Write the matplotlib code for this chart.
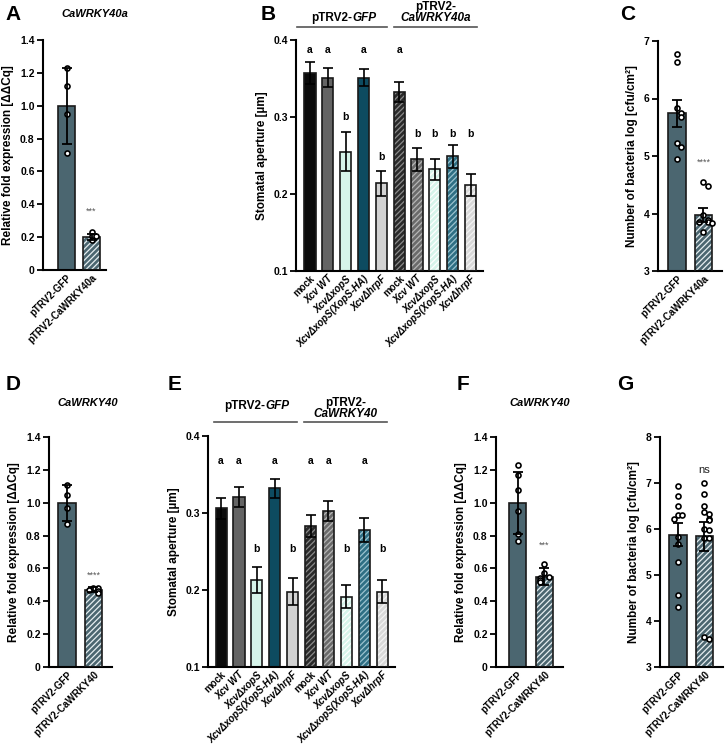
import matplotlib
matplotlib.use('Agg')
import matplotlib.pyplot as plt
import numpy as np

plt.rcParams['font.family'] = ['Liberation Sans', 'DejaVu Sans']
plt.rcParams['font.weight'] = 'bold'
plt.rcParams['axes.labelweight'] = 'bold'
plt.rcParams['hatch.linewidth'] = 0.9

# ---------------- data ----------------
grp2 = ['pTRV2-GFP', 'pTRV2-CaWRKY40a']
grp2b = ['pTRV2-GFP', 'pTRV2-CaWRKY40']
treat = ['mock', 'Xcv WT', 'XcvΔxopS', 'XcvΔxopS(XopS-HA)', 'XcvΔhrpF']

# A: qPCR CaWRKY40a
a_mean = [1.0, 0.20]
a_err = [0.23, 0.02]
a_pts = [[1.23, 1.12, 0.95, 0.71], [0.23, 0.21, 0.21, 0.18]]

# B: stomatal aperture (CaWRKY40a)
b_mean = [0.357, 0.351, 0.255, 0.351, 0.214, 0.332, 0.245, 0.232, 0.249, 0.212]
b_err = [0.014, 0.012, 0.025, 0.011, 0.016, 0.013, 0.015, 0.014, 0.015, 0.014]
b_let = ['a', 'a', 'b', 'a', 'b', 'a', 'b', 'b', 'b', 'b']
b_let_y = [0.387, 0.387, 0.300, 0.387, 0.248, 0.387, 0.278, 0.278, 0.278, 0.278]

# C: bacterial growth (CaWRKY40a)
c_mean = [5.74, 3.98]
c_err = [0.23, 0.12]
c_pts = [[6.78, 6.63, 5.83, 5.75, 5.68, 5.23, 5.16, 4.95],
         [4.55, 4.47, 3.97, 3.88, 3.86, 3.85, 3.83, 3.67]]

# D: qPCR CaWRKY40
d_mean = [1.0, 0.47]
d_err = [0.11, 0.015]
d_pts = [[1.11, 1.05, 0.97, 0.87], [0.48, 0.48, 0.47, 0.46, 0.45]]

# E: stomatal aperture (CaWRKY40)
e_mean = [0.306, 0.321, 0.213, 0.332, 0.198, 0.283, 0.302, 0.191, 0.278, 0.198]
e_err = [0.014, 0.013, 0.017, 0.012, 0.017, 0.014, 0.013, 0.015, 0.016, 0.015]
e_let = ['a', 'a', 'b', 'a', 'b', 'a', 'a', 'b', 'a', 'b']
e_let_y = [0.367, 0.367, 0.253, 0.367, 0.253, 0.367, 0.367, 0.253, 0.367, 0.253]

# F: qPCR CaWRKY40 (second)
f_mean = [1.0, 0.55]
f_err = [0.19, 0.05]
f_pts = [[1.23, 1.17, 1.08, 0.95, 0.81, 0.77], [0.63, 0.57, 0.55, 0.54, 0.53, 0.52]]

# G: bacterial growth (CaWRKY40)
g_mean = [5.88, 5.84]
g_err = [0.24, 0.31]
g_pts = [[6.93, 6.72, 6.50, 6.31, 6.31, 6.22, 5.83, 5.67, 5.28, 4.57, 4.31],
         [7.00, 6.76, 6.50, 6.36, 6.33, 6.22, 6.20, 6.00, 5.98, 5.80, 5.80, 3.65, 3.61]]

# ---------------- styling ----------------
W, H = 726, 744
fig = plt.figure(figsize=(W / 100, H / 100), dpi=100)

main_col = '#4b6670'
ten_face = ['#0b0b0b', '#646464', '#d6f4ea', '#0d4b60', '#d2d2d2',
            '#2a2a2a', '#6a6a6a', '#d6f4ea', '#2f6f84', '#d9d9d9']
ten_hatch = [None, None, None, None, None,
             '#8a8a8a', '#b5b5b5', '#ffffff', '#9cc3cf', '#f4f4f4']


def rect(x0, x1, ytop, ybot):
    return [x0 / W, 1 - ybot / H, (x1 - x0) / W, (ybot - ytop) / H]


def style_ax(ax):
    for s in ['top', 'right']:
        ax.spines[s].set_visible(False)
    for s in ['left', 'bottom']:
        ax.spines[s].set_linewidth(1.5)
    ax.tick_params(axis='y', length=4, width=1.3, labelsize=7.5, pad=2)
    ax.tick_params(axis='x', length=0, labelsize=7, pad=2)


def hbar(ax, x, h, bottom, width, face, hatch_col):
    if hatch_col is None:
        ax.bar(x, h - bottom, width, bottom=bottom, color=face,
               edgecolor='#1a1a1a', linewidth=1.2, zorder=2)
    else:
        ax.bar(x, h - bottom, width, bottom=bottom, color=face,
               edgecolor=hatch_col, hatch='//////', linewidth=0, zorder=2)
        ax.bar(x, h - bottom, width, bottom=bottom, fill=False,
               edgecolor='#1a1a1a', linewidth=1.2, zorder=3)


def swarm(vals, delta, step):
    offs = []
    for i, v in enumerate(vals):
        n = sum(1 for j in range(i) if abs(vals[j] - v) < delta)
        k = (n + 1) // 2
        offs.append(0 if n == 0 else k * step * (1 if n % 2 else -1))
    return offs


def finish_ticks(ax):
    for t in ax.get_yticklabels() + ax.get_xticklabels():
        t.set_fontweight('bold')


def two_bar(box, mean, err, pts, labels, ylim, yticks, yticklabels, ylabel,
            xlim, sig, sig_y, delta):
    ax = fig.add_axes(rect(*box))
    style_ax(ax)
    x = np.arange(2)
    hbar(ax, 0, mean[0], 0, 0.66, main_col, None)
    hbar(ax, 1, mean[1], 0, 0.66, main_col, '#e6eef0')
    ax.errorbar(x, mean, yerr=err, fmt='none', ecolor='black', elinewidth=1.3,
                capsize=3.5, capthick=1.3, zorder=5)
    for i in range(2):
        offs = swarm(pts[i], delta, 0.16)
        ax.scatter(i + np.array(offs), pts[i], s=13, facecolor='white',
                   edgecolor='black', linewidth=1.2, zorder=4)
    ax.text(1, sig_y, sig, ha='center', va='center', fontsize=6.5,
            color='#555555', fontweight='normal')
    ax.set_xlim(*xlim)
    ax.set_ylim(*ylim)
    ax.set_yticks(yticks)
    ax.set_yticklabels(yticklabels)
    ax.set_xticks(x)
    ax.set_xticklabels(labels, rotation=45, ha='right', rotation_mode='anchor')
    ax.set_ylabel(ylabel, fontsize=8.5, labelpad=4, fontweight='bold')
    finish_ticks(ax)
    return ax


def ten_bar(box, mean, err, letters, let_y, xlim):
    ax = fig.add_axes(rect(*box))
    style_ax(ax)
    x = np.arange(10)
    for i in range(10):
        hbar(ax, i, mean[i], 0.1, 0.62, ten_face[i], ten_hatch[i])
    ax.errorbar(x, mean, yerr=err, fmt='none', ecolor='black', elinewidth=1.2,
                capsize=3.5, capthick=1.2, zorder=5)
    for i in range(10):
        ax.text(i, let_y[i], letters[i], ha='center', va='center', fontsize=7.5,
                fontweight='bold')
    ax.set_xlim(*xlim)
    ax.set_ylim(0.1, 0.4)
    ax.set_yticks([0.1, 0.2, 0.3, 0.4])
    ax.set_xticks(x)
    ax.set_xticklabels(treat * 2, rotation=45, ha='right', rotation_mode='anchor')
    finish_ticks(ax)
    for t in ax.get_xticklabels():
        if t.get_text().startswith('Xcv'):
            t.set_style('italic')
    ax.set_ylabel('Stomatal aperture [µm]', fontsize=8.5, labelpad=4, fontweight='bold')
    return ax


rq = 'Relative fold expression [ΔΔCq]'
nb = 'Number of bacteria log [cfu/cm²]'
qt = [0, 0.2, 0.4, 0.6, 0.8, 1.0, 1.2, 1.4]
ql = ['0', '0.2', '0.4', '0.6', '0.8', '1.0', '1.2', '1.4']

# A
axA = two_bar((43, 106, 40, 270), a_mean, a_err, a_pts, grp2, (0, 1.4), qt, ql,
              rq, (-0.94, 1.58), '***', 0.36, 0.015)
# C
axC = two_bar((658, 722, 41, 271), c_mean, c_err, c_pts, grp2, (3, 7),
              [3, 4, 5, 6, 7], ['3', '4', '5', '6', '7'], nb, (-0.72, 1.70),
              '****', 4.89, 0.1)
# D
axD = two_bar((49, 112, 437, 667), d_mean, d_err, d_pts, grp2b, (0, 1.4), qt, ql,
              rq, (-0.68, 1.70), '****', 0.56, 0.015)
# F
axF = two_bar((496, 563, 437, 667), f_mean, f_err, f_pts, grp2b, (0, 1.4), qt, ql,
              rq, (-0.80, 1.69), '***', 0.74, 0.03)
# G
axG = two_bar((660, 723, 437, 667), g_mean, g_err, g_pts, grp2b, (3, 8),
              [3, 4, 5, 6, 7, 8], ['3', '4', '5', '6', '7', '8'], nb,
              (-0.68, 1.70), 'ns', 7.29, 0.12)
axG.texts[-1].set_fontsize(8)
axG.texts[-1].set_color('#222222')

# B and E
axB = ten_bar((296, 483, 40, 271), b_mean, b_err, b_let, b_let_y, (-0.785, 9.70))
axE = ten_bar((208, 395, 436, 667), e_mean, e_err, e_let, e_let_y, (-0.73, 9.72))


def px(x, y):
    return x / W, 1 - y / H


def hline(y_line, x0, x1):
    fig.add_artist(plt.Line2D([x0 / W, x1 / W], [1 - y_line / H] * 2,
                              color='#555555', linewidth=1.2))


def gfp_header(y_line, x0, x1, y_text):
    hline(y_line, x0, x1)
    mid = (x0 + x1) / 2 + 10
    fig.text(*px(mid, y_text), 'pTRV2-', ha='right', va='center', fontsize=8.5,
             fontweight='bold')
    fig.text(*px(mid, y_text), 'GFP', ha='left', va='center', fontsize=8.5,
             fontweight='bold', style='italic')


def gene_header(y_line, x0, x1, gene, y1, y2):
    hline(y_line, x0, x1)
    mid = (x0 + x1) / 2
    fig.text(*px(mid, y1), 'pTRV2-', ha='center', va='center', fontsize=8.5,
             fontweight='bold')
    fig.text(*px(mid, y2), gene, ha='center', va='center', fontsize=8.5,
             fontweight='bold', style='italic')


gfp_header(27, 297, 387, 18)
gene_header(27, 394, 477, 'CaWRKY40a', 7, 18)
gfp_header(422, 214, 297, 406)
gene_header(422, 304, 387, 'CaWRKY40', 403, 414)

# gene titles
fig.text(*px(95, 14), 'CaWRKY40a', ha='center', va='center', fontsize=8,
         style='italic', fontweight='bold')
fig.text(*px(88, 403), 'CaWRKY40', ha='center', va='center', fontsize=8,
         style='italic', fontweight='bold')
fig.text(*px(540, 403), 'CaWRKY40', ha='center', va='center', fontsize=8,
         style='italic', fontweight='bold')

# panel letters
for lab, xx, yy in [('A', 13, 14), ('B', 268, 14), ('C', 628, 14), ('D', 13, 385),
                    ('E', 175, 385), ('F', 463, 385), ('G', 625, 385)]:
    fig.text(*px(xx, yy), lab, ha='center', va='center', fontsize=15, fontweight='bold')

fig.savefig('out.png', dpi=100)
